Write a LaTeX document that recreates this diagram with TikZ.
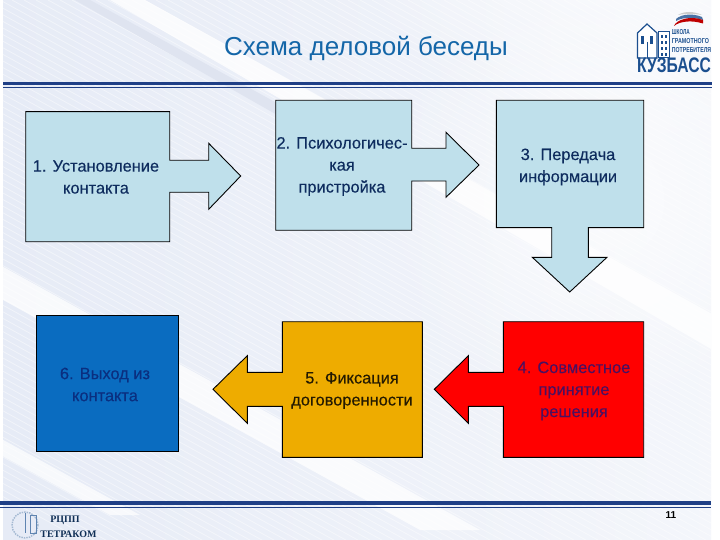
\documentclass[tikz,border=0pt]{standalone}
\usepackage{fontspec}
\usepackage{xcolor}
\usepackage{tikz}
\usetikzlibrary{fadings}
\setmainfont{Liberation Sans}
\newfontfamily\blockfont[FakeBold=0.25]{Liberation Sans}
\newfontfamily\tetrafont{Liberation Serif}
\definecolor{fonlav}{HTML}{E6EBF6}
\definecolor{fonband}{HTML}{DFE4F0}
\definecolor{navyline}{HTML}{1F3F86}
\definecolor{paleblue}{HTML}{BFE0EB}
\definecolor{amber}{HTML}{EEAC00}
\definecolor{signred}{HTML}{FF0000}
\definecolor{deepblue}{HTML}{0A6CC0}
\definecolor{labelnavy}{HTML}{0E2C5E}
\definecolor{rednavy}{HTML}{4A1060}
\definecolor{bluenavy}{HTML}{0A2F80}
\definecolor{titleblue}{HTML}{1466A8}
\definecolor{logoblue}{HTML}{1B4F8F}
\tikzfading[name=fadeglow, inner color=transparent!0, outer color=transparent!100]
\tikzset{
	blockline/.style={draw=black, line width=0.9pt, line join=miter},
	blocktext/.style={align=center, inner sep=0pt, text=labelnavy, font=\blockfont\fontsize{16.4}{22}\selectfont},
	logotext/.style={inner sep=0pt, anchor=west, text=logoblue, font=\bfseries\fontsize{7}{7}\selectfont},
	tetratext/.style={inner sep=0pt, text=logoblue!60!black, font=\tetrafont\bfseries\fontsize{10}{10}\selectfont},
}
\begin{document}
\begin{tikzpicture}[x=1pt,y=-1pt]
			\useasboundingbox (0,0) rectangle (720,540);
			\fill[white] (0,0) rectangle (720,540);
			% fon
			\begin{scope}
				\clip (3,0) rectangle (711,540);
				\shade[left color=fonlav, right color=fonlav!45!white] (3,0) rectangle (711,540);
				\foreach \j in {-900,-888,...,700} {
					\draw[white, opacity=0.45, line width=0.8pt] (\j,0) -- (\j+1000,550);
				}
				\fill[white, opacity=0.8] (110,0) -- (145,0) -- (1120,540) -- (1040,540) -- cycle;
				\fill[fonband] (75,0) -- (90,0) -- (420,182) -- (395,182) -- cycle;
				\fill[white, opacity=0.75] (-160,210) -- (-100,210) -- (480,530) -- (420,530) -- cycle;
				\fill[white, opacity=0.7] (-300,290) -- (-270,290) -- (140,515) -- (110,515) -- cycle;
				\fill[white, path fading=fadeglow] (640,-170) circle (330);
				\fill[white, path fading=fadeglow, opacity=0.7] (600,200) circle (220);
			\end{scope}
			% linii
			\fill[navyline] (3,81.7) rectangle (712,85.3);
			\fill[navyline] (3,87.5) rectangle (712,88.5);
			\fill[navyline] (0,501) rectangle (711,505.3);
			\fill[navyline] (0,507) rectangle (711,508);
			\node[inner sep=0pt, text=titleblue, font=\fontsize{26}{26}\selectfont] (title) at (366,48) {Схема деловой беседы};
			% bloki
			\draw[blockline, fill=paleblue] (25.7,111.7) -- (169.7,111.7) -- (169.7,160.3) -- (208.7,160.3) -- (208.7,143.3) -- (240.7,176) -- (208.7,209.3) -- (208.7,192.3) -- (169.7,192.3) -- (169.7,241.7) -- (25.7,241.7) -- cycle;
			\draw[blockline, fill=paleblue] (275.7,100.3) -- (411.7,100.3) -- (411.7,148.3) -- (446,148.3) -- (446,132.3) -- (479,165) -- (446,197.3) -- (446,181) -- (411.7,181) -- (411.7,230.3) -- (275.7,230.3) -- cycle;
			\draw[blockline, fill=paleblue] (496.3,100.3) -- (643.7,100.3) -- (643.7,227.7) -- (588.3,227.7) -- (588.3,257.3) -- (607,257.3) -- (569.7,292) -- (532.3,257.3) -- (551.7,257.3) -- (551.7,227.7) -- (496.3,227.7) -- cycle;
			\draw[blockline, fill=signred] (643.7,321.7) -- (643.7,457.3) -- (503.3,457.3) -- (503.3,406.3) -- (468.3,406.3) -- (468.3,423.3) -- (434.3,389.3) -- (468.3,355.7) -- (468.3,372.3) -- (503.3,372.3) -- (503.3,321.7) -- cycle;
			\draw[blockline, fill=amber] (422.3,321.7) -- (422.3,457.3) -- (282.3,457.3) -- (282.3,406.3) -- (247.3,406.3) -- (247.3,423.3) -- (213,389.3) -- (247.3,355.7) -- (247.3,372.3) -- (282.3,372.3) -- (282.3,321.7) -- cycle;
			\draw[blockline, fill=deepblue] (36.3,315.3) rectangle (178.3,451);
			% podpisi
			\node[blocktext] (ustanovlenie) at (96,177) {1. Установление\\контакта};
			\node[blocktext] (pristrojka) at (342,166.5) {2. Психологичес-\\кая\\пристройка};
			\node[blocktext] (peredacha) at (568,167) {3. Передача\\информации};
			\node[blocktext, text=rednavy] (reshenie) at (574,391) {4. Совместное\\принятие\\решения};
			\node[blocktext, text=black!85!amber] (fiksacija) at (352,390.5) {5. Фиксация\\договоренности};
			\node[blocktext, text=bluenavy] (vyhod) at (105,384.5) {6. Выход из\\контакта};
			\node[inner sep=0pt, font=\bfseries\fontsize{10}{10}\selectfont] (nomer) at (671,515) {11};
			% logotip
			\draw[logoblue, line width=1.2pt, fill=white] (637.5,58) -- (637.5,33) -- (647,24) -- (657,33) -- (657,58) -- cycle;
			\fill[logoblue] (641,36) rectangle (644,44);
			\fill[logoblue] (650,36) rectangle (653,44);
			\draw[logoblue, line width=0.8pt] (647,42) -- (647,58);
			\draw[logoblue, line width=1pt, fill=white] (658.5,32) rectangle (669,58);
			\foreach \j in {35,41,47,53} {
				\fill[logoblue] (660.5,\j) rectangle (662.8,\j+3);
				\fill[logoblue] (664.8,\j) rectangle (667.1,\j+3);
			}
			\fill[gray!40] (678,15) .. controls (684,11) and (694,11) .. (702,15) .. controls (694,13.5) and (685,13.5) .. (678,15);
			\fill[logoblue!80!white] (676,19) .. controls (682,13.5) and (694,13.5) .. (702,17) -- (703,20) .. controls (694,17) and (683,17) .. (676,21) -- cycle;
			\fill[red!75!black] (674,26) .. controls (676,20) and (690,15) .. (703,20) -- (703,23.5) .. controls (692,20) and (680,21) .. (674,26) -- cycle;
			\node[logotext] (shkola) at (671.7,32.5) {\resizebox{18pt}{5pt}{ШКОЛА}};
			\node[logotext] (gramotnogo) at (671.7,41) {\resizebox{37pt}{5pt}{ГРАМОТНОГО}};
			\node[logotext] (potrebitelja) at (671.7,50) {\resizebox{39.3pt}{5pt}{ПОТРЕБИТЕЛЯ}};
			\node[logotext, font=\bfseries\fontsize{20.5}{20.5}\selectfont] (kuzbass) at (637,65.5) {\resizebox{73.7pt}{14.7pt}{КУЗБАСС}};
			% tetrakom
			\draw[logoblue!40!white, line width=1.4pt, dash pattern=on 1.5pt off 1pt] (25,525) circle (13);
			\draw[logoblue!70!white, line width=1pt] (25,513) -- (25,533) (30,515) -- (30,533) (30,515) -- (36,515) -- (36,533) -- (30,533);
			\node[tetratext] (rcpp) at (65,520.5) {РЦПП};
			\node[tetratext] (tetrakom) at (68.5,534) {ТЕТРАКОМ};
\end{tikzpicture}
\end{document}
